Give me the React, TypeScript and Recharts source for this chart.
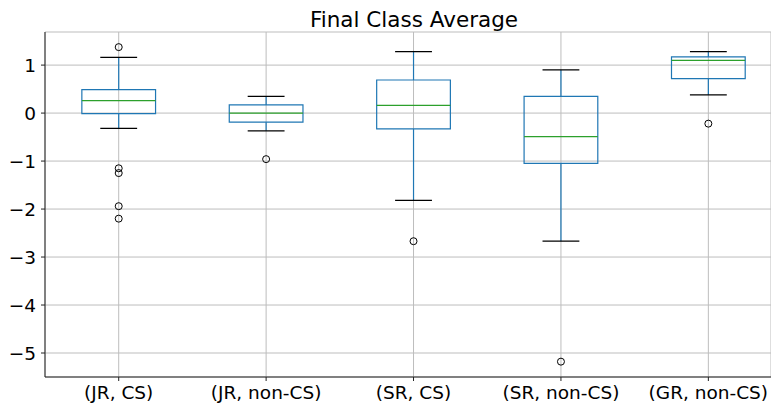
import React from 'react';
import {
  ComposedChart, XAxis, YAxis, CartesianGrid, Scatter, ReferenceArea, ReferenceLine,
} from 'recharts';

const categories = ['(JR, CS)', '(JR, non-CS)', '(SR, CS)', '(SR, non-CS)', '(GR, non-CS)'];
const whiskerLow = [-0.32, -0.37, -1.82, -2.67, 0.38];
const q1 = [-0.01, -0.19, -0.33, -1.05, 0.72];
const median = [0.26, 0.0, 0.16, -0.49, 1.1];
const q3 = [0.49, 0.17, 0.69, 0.35, 1.17];
const whiskerHigh = [1.16, 0.35, 1.28, 0.9, 1.28];
const fliers = [
  [1.375, -1.15, -1.25, -1.94, -2.2],
  [-0.96],
  [-2.67],
  [-5.18],
  [-0.22],
];
const yTicks = [-5, -4, -3, -2, -1, 0, 1];

const positions = categories.map((_, i) => i + 1);
const flierData = fliers.flatMap((vals, i) => vals.map((v) => ({ x: i + 1, y: v })));

const BOX_HALF = 0.25;
const CAP_HALF = 0.125;
const BLUE = '#1f77b4';
const GREEN = '#2ca02c';
const FONT = 'DejaVu Sans, sans-serif';

const Flier = (props: any) => {
  const { cx, cy } = props;
  return <circle cx={cx} cy={cy} r={3.5} fill="none" stroke="#000" strokeWidth={1} />;
};

export default function App() {
  return (
    <div style={{ position: 'absolute', left: 0, top: 0, width: 771, height: 407, overflow: 'hidden', background: '#fff', fontFamily: FONT }}>
      <div style={{ position: 'absolute', left: 0, top: 7, width: 828, textAlign: 'center', fontSize: 21.5, color: '#000', lineHeight: 'normal' }}>
        Final Class Average
      </div>
      <ComposedChart width={771} height={407} margin={{ top: 32, right: 0, bottom: 0, left: 0 }}>
        <CartesianGrid stroke="#bdbdbd" strokeWidth={1} horizontal vertical />
        <XAxis
          dataKey="x"
          type="number"
          domain={[0.5, 5.425]}
          allowDataOverflow
          ticks={positions}
          tickFormatter={(v: number) => categories[v - 1]}
          height={30}
          tickSize={4}
          tickMargin={5}
          interval={0}
          stroke="#222"
          tick={{ fill: '#000', fontSize: 18.5, fontFamily: FONT }}
        />
        <XAxis
          xAxisId="top"
          orientation="top"
          type="number"
          domain={[0.5, 5.425]}
          allowDataOverflow
          tick={false}
          tickLine={false}
          height={0}
          stroke="#222"
        />
        <YAxis
          dataKey="y"
          type="number"
          domain={[-5.5, 1.69]}
          allowDataOverflow
          ticks={yTicks}
          tickFormatter={(v: number) => String(v).replace('-', '\u2212')}
          width={45}
          tickSize={4}
          tickMargin={5}
          interval={0}
          stroke="#222"
          tick={{ fill: '#000', fontSize: 18.5, fontFamily: FONT }}
        />
        {positions.map((p, i) => (
          <ReferenceLine key={`wl${i}`} segment={[{ x: p, y: whiskerLow[i] }, { x: p, y: q1[i] }]} stroke={BLUE} strokeWidth={1.2} />
        ))}
        {positions.map((p, i) => (
          <ReferenceLine key={`wh${i}`} segment={[{ x: p, y: q3[i] }, { x: p, y: whiskerHigh[i] }]} stroke={BLUE} strokeWidth={1.2} />
        ))}
        {positions.map((p, i) => (
          <ReferenceArea
            key={`box${i}`}
            x1={p - BOX_HALF}
            x2={p + BOX_HALF}
            y1={q1[i]}
            y2={q3[i]}
            fill="none"
            fillOpacity={0}
            stroke={BLUE}
            strokeWidth={1.2}
          />
        ))}
        {positions.map((p, i) => (
          <ReferenceLine key={`med${i}`} segment={[{ x: p - BOX_HALF, y: median[i] }, { x: p + BOX_HALF, y: median[i] }]} stroke={GREEN} strokeWidth={1.2} />
        ))}
        {positions.map((p, i) => (
          <ReferenceLine key={`capl${i}`} segment={[{ x: p - CAP_HALF, y: whiskerLow[i] }, { x: p + CAP_HALF, y: whiskerLow[i] }]} stroke="#000" strokeWidth={1.2} />
        ))}
        {positions.map((p, i) => (
          <ReferenceLine key={`caph${i}`} segment={[{ x: p - CAP_HALF, y: whiskerHigh[i] }, { x: p + CAP_HALF, y: whiskerHigh[i] }]} stroke="#000" strokeWidth={1.2} />
        ))}
        <Scatter data={flierData} dataKey="y" shape={Flier} isAnimationActive={false} />
      </ComposedChart>
    </div>
  );
}
